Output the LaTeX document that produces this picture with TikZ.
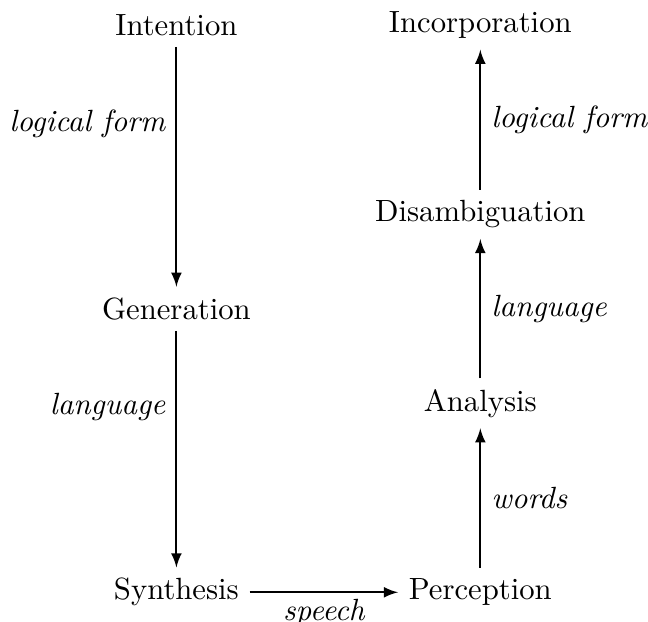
\documentclass[tikz,border=0pt]{standalone}
\usepackage{tikz}
\usetikzlibrary{arrows,positioning,calc}

\begin{document}
\begin{tikzpicture}[
    stagebox/.style={rectangle, align=center},
    flow/.style={-latex, semithick},
    tag/.style={font=\itshape}
]
    \useasboundingbox (0,0) rectangle (7.42,-7.12);

    % Speaker side
    \node[stagebox] (intent) at (2.02,-0.29) {Intention};
    \node[stagebox] (gen) at (2.02,-3.536) {Generation};
    \node[stagebox] (synth) at (2.02,-6.782) {Synthesis};

    % Hearer side
    \node[stagebox] (incorp) at (5.50,-0.29) {Incorporation};
    \node[stagebox] (disamb) at (5.50,-2.454) {Disambiguation};
    \node[stagebox] (anal) at (5.50,-4.618) {Analysis};
    \node[stagebox] (percep) at (5.50,-6.782) {Perception};

    % Arrows
    \draw[flow] (intent) -- node[tag, left, pos=0.32] {logical form} (gen);
    \draw[flow] (gen) -- node[tag, left, pos=0.32] {language} (synth);
    \draw[flow] (synth) -- node[tag, below, inner sep=2pt] {speech} (percep);
    \draw[flow] (percep) -- node[tag, right] {words} (anal);
    \draw[flow] (anal) -- node[tag, right] {language} (disamb);
    \draw[flow] (disamb) -- node[tag, right] {logical form} (incorp);

\end{tikzpicture}
\end{document}
